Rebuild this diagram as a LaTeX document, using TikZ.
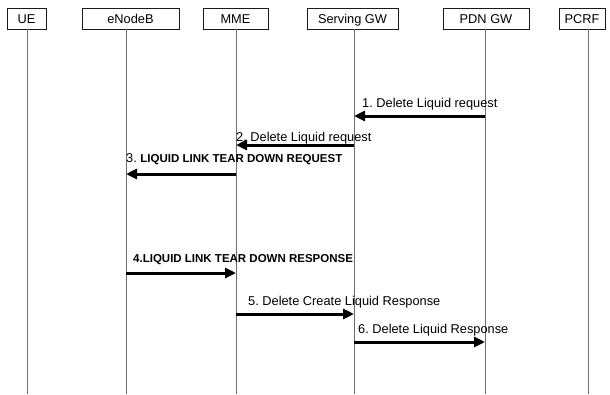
\documentclass[tikz,border=0pt]{standalone}
\usepackage{fontspec}
\setmainfont{Liberation Sans}
\usetikzlibrary{arrows.meta,positioning,calc}
\definecolor{seqInk}{HTML}{1A1A1A}
\definecolor{seqGrey}{HTML}{6E6E6E}
\frenchspacing
\tikzset{
    seqEntity/.style={
        rectangle,
        draw=seqInk,
        line width=0.8pt,
        minimum height=21pt,
        text height=9pt,
        text depth=0pt,
        inner sep=0pt,
        font=\fontsize{12.8}{15}\selectfont
    },
    % Lifelines and messages
    seqLife/.style={draw=seqGrey, line width=0.9pt},
    seqMsg/.style={draw=black, line width=3pt, -{Triangle[length=11pt,width=10pt]}},
    seqLabel/.style={anchor=base west, inner sep=0pt, font=\fontsize{12.8}{15}\selectfont},
    seqBold/.style={seqLabel, font=\fontsize{11.5}{14}\selectfont\bfseries}
}
\begin{document}
\begin{tikzpicture}[x=1pt, y=-1pt]
    \useasboundingbox (0,0) rectangle (610,394);

    \node[seqEntity, minimum width=39pt] (ue) at (26.5,18.5) {UE};
    \node[seqEntity, minimum width=97pt] (enb) at (130.5,18.5) {eNodeB};
    \node[seqEntity, minimum width=65pt] (mme) at (235.5,18.5) {MME};
    \node[seqEntity, minimum width=91pt] (sgw) at (352.5,18.5) {Serving GW};
    \node[seqEntity, minimum width=86pt] (pgw) at (486,18.5) {PDN GW};
    \node[seqEntity, minimum width=46pt] (pcrf) at (582,18.5) {PCRF};

    \coordinate (ueEnd) at (27,394);
    \coordinate (enbEnd) at (126,394);
    \coordinate (mmeEnd) at (236,394);
    \coordinate (sgwEnd) at (354,394);
    \coordinate (pgwEnd) at (485,394);
    \coordinate (pcrfEnd) at (588,394);

    \foreach \n in {ue,enb,mme,sgw,pgw,pcrf}
        \draw[seqLife] (\n.south -| \n End) -- (\n End);

    % Messages
    \draw[seqMsg] (pgwEnd |- 0,116) -- (sgwEnd |- 0,116);
    \node[seqLabel] (lbl1) at (362,107) {1. Delete Liquid request};

    \draw[seqMsg] (sgwEnd |- 0,145) -- (mmeEnd |- 0,145);
    \node[seqLabel] (lbl2) at (236,141) {2. Delete Liquid request};

    \draw[seqMsg] (mmeEnd |- 0,174) -- (enbEnd |- 0,174);
    \node[seqLabel] (lbl3) at (126,162) {3. \fontsize{11.5}{14}\selectfont\bfseries LIQUID LINK TEAR DOWN REQUEST};

    \draw[seqMsg] (enbEnd |- 0,273) -- (mmeEnd |- 0,273);
    \node[seqBold] (lbl4) at (133,262) {4.LIQUID LINK TEAR DOWN RESPONSE};

    \draw[seqMsg] (mmeEnd |- 0,314) -- (sgwEnd |- 0,314);
    \node[seqLabel] (lbl5) at (248,305) {5. Delete Create Liquid Response};

    \draw[seqMsg] (sgwEnd |- 0,342) -- (pgwEnd |- 0,342);
    \node[seqLabel] (lbl6) at (358,333) {6. Delete Liquid Response};
\end{tikzpicture}
\end{document}
